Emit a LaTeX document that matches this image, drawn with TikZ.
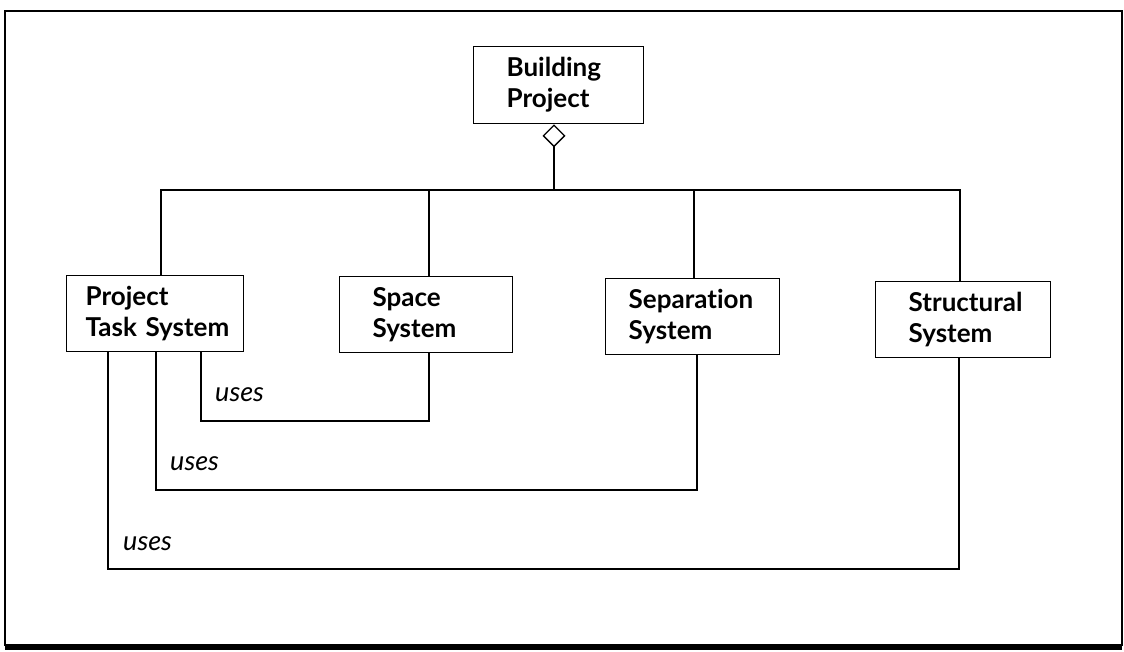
\documentclass[tikz,border=0pt]{standalone}
\usepackage{fontspec}
\setmainfont[Ligatures=NoCommon]{Lato}
\usetikzlibrary{arrows.meta}
\begin{document}
\begin{tikzpicture}[x=1pt,y=-1pt,
  sysbox/.style={draw, line width=1.3pt, anchor=north west, align=left,
    inner ysep=0pt, font=\bfseries\fontsize{26}{31}\selectfont},
  link/.style={line width=1.3pt},
  uselabel/.style={anchor=base west, inner sep=0pt,
    font=\itshape\fontsize{27}{31}\selectfont}]
\useasboundingbox (0,0) rectangle (1124,652);

% outer frame with heavier bottom edge
\draw[line width=2pt] (5,11) rectangle (1122,645);
\draw[line width=5pt] (5,647) -- (1122,647);

% whole and parts (lines kept unbroken)
\node[sysbox, minimum width=170pt, minimum height=77pt, inner xsep=33pt, text width=104pt]
  (bp) at (473,46) {\mbox{Building}\\\mbox{Project}};
\node[sysbox, minimum width=177pt, minimum height=76pt, inner xsep=19pt, text width=139pt]
  (pts) at (66,275) {\mbox{Project}\\\mbox{Task System}};
\node[sysbox, minimum width=173pt, minimum height=76pt, inner xsep=33pt, text width=107pt]
  (sp) at (339,276) {\mbox{Space}\\\mbox{System}};
\node[sysbox, minimum width=174pt, minimum height=76pt, inner xsep=23pt, text width=128pt]
  (sep) at (605,278) {\mbox{Separation}\\\mbox{System}};
\node[sysbox, minimum width=175pt, minimum height=76pt, inner xsep=33pt, text width=109pt]
  (ss) at (875,281) {\mbox{Structural}\\\mbox{System}};

% aggregation: diamond under the whole, then the bus to each part
\coordinate (J) at (554,190);
\draw[link, {Diamond[open, length=23pt, width=23pt, line width=1.3pt]}-]
  (554,0 |- bp.south) -- (J);
\draw[link] (161,0 |- pts.north) |- (960,190) -- (960,0 |- ss.north);
\draw[link] (429,0 |- sp.north) -- (429,190);
\draw[link] (694,0 |- sep.north) -- (694,190);

% "uses" dependencies
\draw[link] (201,0 |- pts.south) |- (429,421) -- (429,0 |- sp.south);
\draw[link] (156,0 |- pts.south) |- (697,490) -- (697,0 |- sep.south);
\draw[link] (108,0 |- pts.south) |- (959,569) -- (959,0 |- ss.south);

\node[uselabel] (u1) at (215,401) {uses};
\node[uselabel] (u2) at (170,470) {uses};
\node[uselabel] (u3) at (123,550) {uses};
\end{tikzpicture}
\end{document}
